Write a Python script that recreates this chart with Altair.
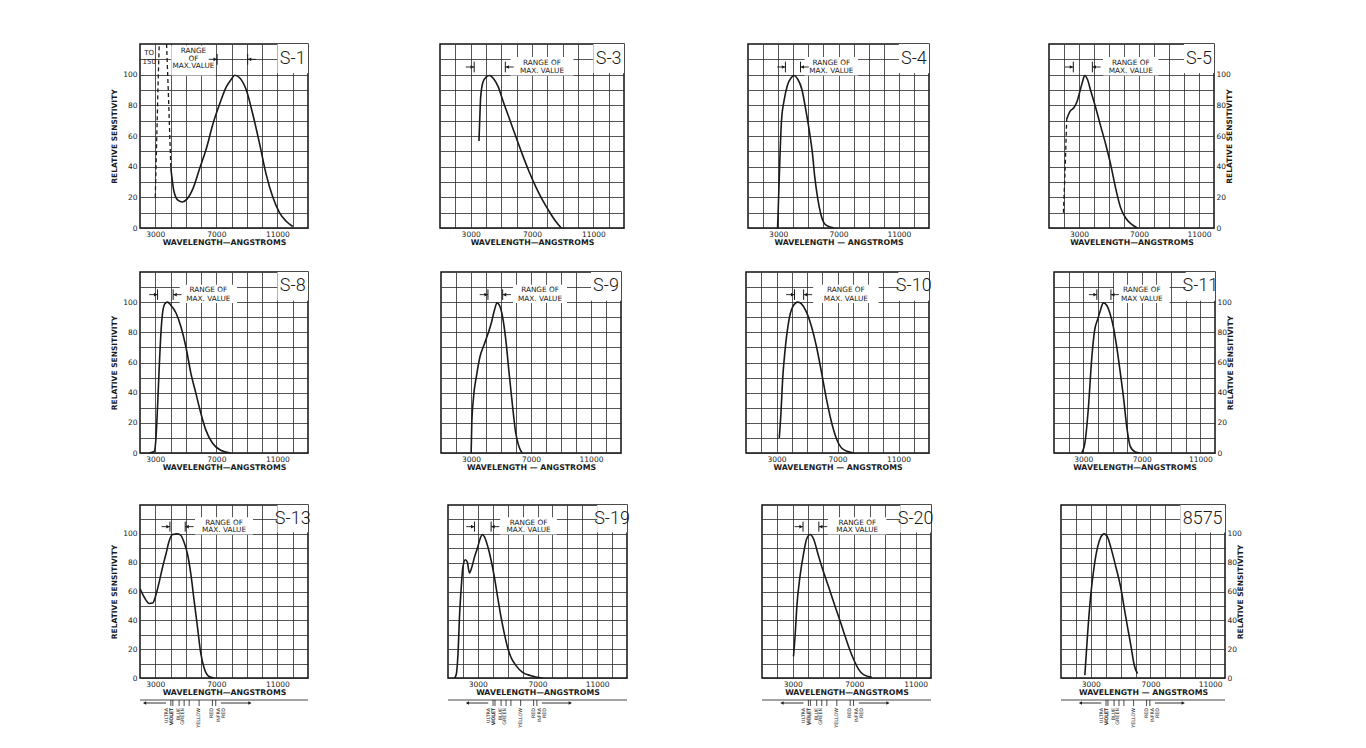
import altair as alt
import pandas as pd

FONT = "DejaVu Sans"
LABEL_FONT = "Roboto"
INK = "#1a1a1a"

# ---------------- curve data (wavelength in angstroms, relative sensitivity) ----------------
S1_DASH1_WL = [3000, 3100, 3200, 3260]
S1_DASH1_RS = [20, 60, 100, 120]
S1_DASH2_WL = [3740, 3850, 3950, 4020]
S1_DASH2_RS = [120, 90, 60, 39]
S1_WL = [4020, 4220, 4500, 4780, 5090, 5480, 5910, 6350, 6780, 7220, 7650, 7980, 8200, 8520,
         8960, 9390, 9830, 10260, 10700, 11130, 11570, 12000]
S1_RS = [39, 24, 18, 17, 19, 26, 39, 52, 68, 81, 92, 97, 99.6, 98, 90, 74, 55, 35, 20, 10, 4.4, 1]

S3_WL = [3540, 3590, 3650, 3800, 4020, 4240, 4520, 4800, 5070, 5500, 5930, 6370, 6800, 7240,
         7670, 8110, 8540, 8910]
S3_RS = [56.7, 70, 85, 95, 98.6, 99.5, 97, 92, 84, 72, 60, 48, 37, 27, 18.5, 11, 4.4, 0]

S4_WL = [2960, 3000, 3110, 3220, 3390, 3610, 3870, 4040, 4300, 4570, 4850, 5070, 5280, 5430,
         5610, 5830, 6150, 6700]
S4_RS = [0, 11, 44, 70, 83, 93, 98, 99.5, 97, 90.5, 76, 63, 48, 33, 20, 9, 2, 0]

S5_DASH_WL = [1960, 2080, 2180]
S5_DASH_RS = [10, 40, 71]
S5_WL = [2180, 2400, 2670, 2890, 3070, 3240, 3380, 3560, 3780, 4110, 4440, 4780, 5110, 5440,
         5780, 6110, 6560, 6890]
S5_RS = [71, 76, 78.6, 83, 89.5, 95.6, 99.5, 97, 89.5, 78.6, 66.6, 54.6, 41.5, 26, 13, 6.5, 2, 0]

S8_WL = [2610, 2930, 3040, 3150, 3260, 3370, 3480, 3630, 3800, 4020, 4350, 4670, 5000, 5330,
         5650, 5980, 6300, 6740, 7280, 7930]
S8_RS = [0, 1, 9, 31, 57, 79.5, 93, 99, 100, 98, 93, 84, 70.6, 53, 40, 26.5, 15.5, 6.6, 1.8, 0]

S9_WL = [3010, 3050, 3160, 3380, 3590, 3880, 4130, 4350, 4570, 4740, 4890, 5110, 5320, 5540,
         5760, 5970, 6190, 6410]
S9_RS = [0, 18.6, 36, 52, 63.5, 72, 79, 86, 95, 99.5, 98, 90, 75, 53, 32, 14, 4.4, 0]

S10_WL = [3180, 3290, 3400, 3560, 3780, 4070, 4400, 4620, 4960, 5290, 5620, 5960, 6290, 6620,
          6960, 7400, 8070]
S10_RS = [10, 26, 48.5, 68, 86, 97, 100, 99, 93.6, 84, 70.6, 53, 35, 19.9, 8.8, 2.2, 0]

S11_WL = [2900, 3130, 3350, 3580, 3770, 4000, 4150, 4380, 4610, 4840, 5070, 5290, 5520, 5750,
          5980, 6210, 6550, 6900]
S11_RS = [0, 7.8, 30, 63, 81, 89, 94, 99.5, 97.8, 92, 83, 70, 54, 36.7, 16.7, 4.4, 0.7, 0]

S13_WL = [2000, 2280, 2610, 2830, 3040, 3260, 3480, 3700, 3910, 4130, 4460, 4670, 4890, 5110,
          5330, 5540, 5760, 5980, 6200, 6520, 6850]
S13_RS = [62, 56, 51.7, 52, 57.5, 66.7, 77, 86, 95, 99.5, 100, 99, 94, 86, 72, 54, 35.6, 17,
          6.9, 1, 0]

S19_WL = [1440, 1560, 1670, 1780, 1890, 2000, 2160, 2290, 2440, 2600, 2780, 3000, 3160, 3290,
          3440, 3670, 3890, 4110, 4330, 4560, 4780, 5000, 5220, 5560, 6000, 6560, 7330]
S19_RS = [0, 2.8, 16.7, 44.5, 63, 77, 82, 80.5, 72.9, 77, 84, 91, 96.8, 99.5, 98, 91, 81.7, 70,
          56, 42, 30.6, 21, 14.4, 8.6, 3.9, 1.6, 0]

S20_WL = [3050, 3160, 3260, 3480, 3700, 3910, 4130, 4350, 4670, 5000, 5330, 5650, 5980, 6300,
          6630, 6960, 7280, 7610, 8150]
S20_RS = [15, 30, 48.5, 71, 86, 96.6, 99.5, 96.6, 85, 73.7, 63.4, 53, 42.8, 32.5, 22, 13, 6.2,
          2.3, 0.5]

T8575_WL = [2600, 2780, 3000, 3220, 3450, 3670, 3890, 4120, 4340, 4680, 5010, 5240, 5460, 5680,
            5910, 6130]
T8575_RS = [2, 30, 58, 77, 90.6, 97.7, 100, 97.7, 90.6, 77, 62.6, 48.6, 35.5, 23, 9, 3]

# ---------------- spectrum strip under the bottom row ----------------
SPEC_TICKS = [4020, 4150, 4560, 4890, 5220, 5870, 6740, 6960]
SPEC_LABEL_WL = [3750, 4110, 4565, 4830, 5870, 6740, 7170]
SPEC_LABELS = ["ULTRA\nVIOLET", "VIOLET", "BLUE", "GREEN", "YELLOW", "RED", "INFRA\nRED"]
SPEC_ARROW_LEFT = [2300, 3700]
SPEC_ARROW_RIGHT = [7300, 9200]

X_LABELLED = [3000, 7000, 11000]

D1 = "WAVELENGTH\u2014ANGSTROMS"
D2 = "WAVELENGTH \u2014 ANGSTROMS"

PANELS = [
    dict(name="S-1", dom=(2000, 13000), w=168, wl=S1_WL, rs=S1_RS,
         dash=[(S1_DASH1_WL, S1_DASH1_RS), (S1_DASH2_WL, S1_DASH2_RS)],
         rng=(7050, 9050), txt=(4050, 6950), lines=["RANGE", "OF", "MAX.VALUE"], lab=11000,
         xt=D1, yax="left"),
    dict(name="S-3", dom=(1000, 13000), w=184, wl=S3_WL, rs=S3_RS, dash=[],
         rng=(3230, 5260), txt=(5600, 9700), lines=["RANGE  OF", "MAX. VALUE"], lab=11000,
         xt=D1, yax=None),
    dict(name="S-4", dom=(1000, 13000), w=181, wl=S4_WL, rs=S4_RS, dash=[],
         rng=(3480, 4480), txt=(4750, 8300), lines=["RANGE  OF", "MAX. VALUE"], lab=11000,
         xt=D2, yax=None),
    dict(name="S-5", dom=(1000, 12000), w=165, wl=S5_WL, rs=S5_RS, dash=[(S5_DASH_WL, S5_DASH_RS)],
         rng=(2620, 3890), txt=(4600, 8300), lines=["RANGE  OF", "MAX.  VALUE"], lab=10000,
         xt=D1, yax="right"),
    dict(name="S-8", dom=(2000, 13000), w=168, wl=S8_WL, rs=S8_RS, dash=[],
         rng=(3150, 4170), txt=(4600, 8350), lines=["RANGE  OF", "MAX. VALUE"], lab=11000,
         xt=D1, yax="left"),
    dict(name="S-9", dom=(1000, 13000), w=180, wl=S9_WL, rs=S9_RS, dash=[],
         rng=(4130, 5110), txt=(5800, 9400), lines=["RANGE  OF", "MAX. VALUE"], lab=11000,
         xt=D2, yax=None),
    dict(name="S-10", dom=(1000, 13000), w=183, wl=S10_WL, rs=S10_RS, dash=[],
         rng=(4180, 4780), txt=(5400, 9700), lines=["RANGE  OF", "MAX. VALUE"], lab=11000,
         xt=D2, yax=None),
    dict(name="S-11", dom=(1000, 12000), w=161, wl=S11_WL, rs=S11_RS, dash=[],
         rng=(3930, 4890), txt=(5100, 8900), lines=["RANGE  OF", "MAX VALUE"], lab=10000,
         xt=D1, yax="right"),
    dict(name="S-13", dom=(2000, 13000), w=168, wl=S13_WL, rs=S13_RS, dash=[],
         rng=(3960, 4960), txt=(5600, 9400), lines=["RANGE  OF", "MAX. VALUE"], lab=11000,
         xt=D1, yax="left"),
    dict(name="S-19", dom=(1000, 13000), w=179, wl=S19_WL, rs=S19_RS, dash=[],
         rng=(2780, 3890), txt=(4500, 8300), lines=["RANGE  OF", "MAX. VALUE"], lab=11000,
         xt=D1, yax=None),
    dict(name="S-20", dom=(1000, 12000), w=169, wl=S20_WL, rs=S20_RS, dash=[],
         rng=(3670, 4700), txt=(5300, 9100), lines=["RANGE  OF", "MAX  VALUE"], lab=10000,
         xt=D1, yax=None),
    dict(name="8575", dom=(1000, 12000), w=164, wl=T8575_WL, rs=T8575_RS, dash=[],
         rng=None, txt=None, lines=[], lab=9000, xt=D2, yax="right"),
]

ROW_H = [184, 181, 173]
GAPS = [[130, 122, 118], [131, 123, 120], [134, 129, 124]]
ROW_SPACING = [23, 31]


def build_panel(p, h, band):
    d0, d1 = p["dom"]
    xs = alt.Scale(domain=[d0, d1], nice=False, zero=False)
    ys = alt.Scale(domain=[0, 120], nice=False, zero=False)
    xgrid = list(range(d0 + 1000, d1, 1000))
    ygrid = list(range(0, 111, 10))

    xaxis = alt.Axis(
        values=xgrid, grid=True, ticks=False, domain=False, title=p["xt"],
        labelExpr="indexof([%s], datum.value) >= 0 ? '' + datum.value : ''"
        % ",".join(str(v) for v in X_LABELLED),
        labelOverlap=False, labelPadding=2, labelFontSize=7.5, labelColor=INK,
        titleFontSize=7.8, titleFontWeight="bold", titlePadding=1, titleColor=INK,
    )
    ylab = "datum.value % 20 == 0 && datum.value <= 100 ? '' + datum.value : ''"
    if p["yax"] == "left":
        yaxis = alt.Axis(values=ygrid, grid=True, ticks=False, domain=False, orient="left",
                         labelExpr=ylab, labelOverlap=False, labelPadding=3, labelFontSize=7.5,
                         labelColor=INK, title="RELATIVE  SENSITIVITY", titleFontSize=7.5,
                         titleFontWeight="bold", titlePadding=4, titleColor=INK)
    elif p["yax"] == "right":
        yaxis = alt.Axis(values=ygrid, grid=True, ticks=False, domain=False, orient="right",
                         labelExpr=ylab, labelOverlap=False, labelPadding=2, labelFontSize=7.5,
                         labelColor=INK, title="RELATIVE  SENSITIVITY", titleFontSize=7.5,
                         titleFontWeight="bold", titlePadding=3, titleAngle=270, titleColor=INK)
    else:
        yaxis = alt.Axis(values=ygrid, grid=True, ticks=False, domain=False, labels=False,
                         title=None)

    # identical scale + axis definitions in every layer so that they merge cleanly
    def X(field="x"):
        return alt.X(f"{field}:Q", scale=xs, axis=xaxis)

    def Y(field="y"):
        return alt.Y(f"{field}:Q", scale=ys, axis=yaxis)

    # white boxes (panel label box + annotation text box)
    boxes = [dict(x=p["lab"], x2=d1, y=101, y2=120)]
    if p["txt"] is not None:
        top = 119 if len(p["lines"]) == 3 else 111.5
        boxes.append(dict(x=p["txt"][0], x2=p["txt"][1], y=99.5, y2=top))
    layers = [
        alt.Chart(pd.DataFrame(boxes)).mark_rect(color="white").encode(
            x=X(), x2="x2:Q", y=Y(), y2="y2:Q")
    ]

    # panel label
    layers.append(
        alt.Chart(pd.DataFrame([dict(x=(p["lab"] + d1) / 2, y=110.5, t=p["name"])]))
        .mark_text(font=LABEL_FONT, fontSize=18, fontWeight=300, color=INK,
                   baseline="middle", align="center")
        .encode(x=X(), y=Y(), text="t:N"))

    # "RANGE OF MAX. VALUE" annotation
    if p["txt"] is not None:
        n = len(p["lines"])
        ys_lines = [115.2, 110.5, 105.8] if n == 3 else [107.8, 102.4]
        cx = (p["txt"][0] + p["txt"][1]) / 2
        tl = pd.DataFrame(dict(x=[cx] * n, y=ys_lines, t=p["lines"]))
        layers.append(alt.Chart(tl).mark_text(font=FONT, fontSize=7.3, color=INK,
                                              baseline="middle", align="center")
                      .encode(x=X(), y=Y(), text="t:N"))
        lo, hi = p["rng"]
        ay = 110 if n == 3 else 105
        bars = pd.DataFrame(dict(x=[lo, hi], y=[ay - 3.5] * 2, y2=[ay + 3.5] * 2))
        layers.append(alt.Chart(bars).mark_rule(color=INK, strokeWidth=1)
                      .encode(x=X(), y=Y(), y2="y2:Q"))
        arr = pd.DataFrame(dict(x=[lo - 550, hi], x2=[lo, hi + 550], y=[ay, ay]))
        layers.append(alt.Chart(arr).mark_rule(color=INK, strokeWidth=0.9)
                      .encode(x=X(), x2="x2:Q", y=Y()))
        heads = pd.DataFrame(dict(x=[lo - 130, hi + 130], y=[ay, ay],
                                  s=["triangle-right", "triangle-left"]))
        layers.append(alt.Chart(heads).mark_point(filled=True, color=INK, size=14, opacity=1)
                      .encode(x=X(), y=Y(),
                              shape=alt.Shape("s:N", scale=None, legend=None)))

    if p["name"] == "S-1":
        to = pd.DataFrame(dict(x=[2600, 2600], y=[114, 108.5], t=["TO", "150"]))
        layers.append(alt.Chart(to).mark_text(font=FONT, fontSize=7, color=INK,
                                              baseline="middle", align="center")
                      .encode(x=X(), y=Y(), text="t:N"))

    # dashed parts of curves
    for dwl, drs in p["dash"]:
        dd = pd.DataFrame(dict(x=dwl, y=drs))
        layers.append(alt.Chart(dd).mark_line(color=INK, strokeWidth=1.3, strokeDash=[4, 3],
                                              clip=True)
                      .encode(x=X(), y=Y()))

    # main spectral-response curve
    cd = pd.DataFrame(dict(x=p["wl"], y=p["rs"]))
    layers.append(alt.Chart(cd).mark_line(color=INK, strokeWidth=1.6, interpolate="monotone",
                                          clip=True)
                  .encode(x=X(), y=Y()))

    # colour strip under the bottom row
    if band:
        ln = pd.DataFrame(dict(x=[d0], x2=[d1]))
        layers.append(alt.Chart(ln).mark_rule(color=INK, strokeWidth=0.8)
                      .encode(x=X(), x2="x2:Q", y=alt.value(h + 22)))
        ar = pd.DataFrame(dict(x=[SPEC_ARROW_LEFT[0], SPEC_ARROW_RIGHT[0]],
                               x2=[SPEC_ARROW_LEFT[1], SPEC_ARROW_RIGHT[1]]))
        layers.append(alt.Chart(ar).mark_rule(color=INK, strokeWidth=0.9)
                      .encode(x=X(), x2="x2:Q", y=alt.value(h + 25)))
        hd = pd.DataFrame(dict(x=[SPEC_ARROW_LEFT[0], SPEC_ARROW_RIGHT[1]],
                               s=["triangle-left", "triangle-right"]))
        layers.append(alt.Chart(hd).mark_point(filled=True, color=INK, size=14, opacity=1)
                      .encode(x=X(), y=alt.value(h + 25),
                              shape=alt.Shape("s:N", scale=None, legend=None)))
        tk = pd.DataFrame(dict(x=SPEC_TICKS))
        layers.append(alt.Chart(tk).mark_rule(color=INK, strokeWidth=0.8)
                      .encode(x=X(), y=alt.value(h + 22), y2=alt.value(h + 28)))
        lb = pd.DataFrame(dict(x=SPEC_LABEL_WL, t=SPEC_LABELS))
        layers.append(alt.Chart(lb).mark_text(font=FONT, fontSize=4.8, color=INK, angle=270,
                                              align="right", baseline="middle",
                                              lineBreak="\n", lineHeight=5)
                      .encode(x=X(), y=alt.value(h + 30), text="t:N"))

    return alt.layer(*layers).properties(width=p["w"], height=h)


rows = []
for r in range(3):
    ps = [build_panel(PANELS[r * 4 + c], ROW_H[r], r == 2) for c in range(4)]
    g = GAPS[r]
    row = alt.hconcat(alt.hconcat(alt.hconcat(ps[0], ps[1], spacing=g[0]), ps[2], spacing=g[1]),
                      ps[3], spacing=g[2])
    rows.append(row)

chart = alt.vconcat(alt.vconcat(rows[0], rows[1], spacing=ROW_SPACING[0]), rows[2],
                    spacing=ROW_SPACING[1])

chart = chart.properties(
    padding={"left": 101, "top": 35, "right": 5, "bottom": 5},
    background="white",
).configure(font=FONT).configure_view(
    stroke="#111111", strokeWidth=1.5
).configure_axis(
    gridColor="#2a2a2a", gridWidth=0.8, gridOpacity=1
)

chart.save("out.html", embed_options={"renderer": "svg", "actions": False})
